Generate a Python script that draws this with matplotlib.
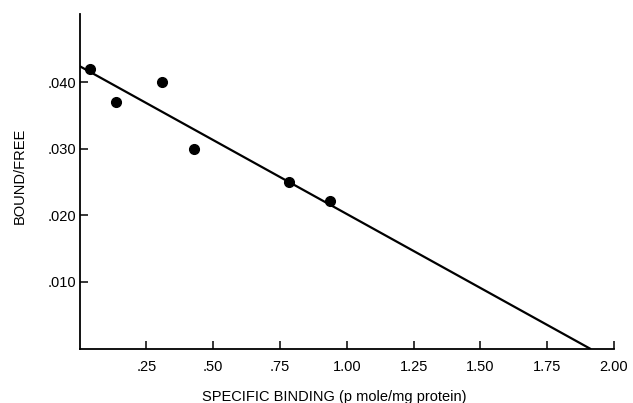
#
# Scatchard plot: bound/free vs specific binding
#
import matplotlib
matplotlib.use('Agg')
import matplotlib.pyplot as plt

plt.rcParams['font.family'] = ['Liberation Sans', 'DejaVu Sans']

# data points
binding = [0.04, 0.136, 0.31, 0.427, 0.783, 0.936]
bound_free = [0.0419, 0.0370, 0.0400, 0.0300, 0.0250, 0.0221]

# fitted line end points
fit_x = [0.0, 1.91]
fit_y = [0.0424, 0.0]

xticks = [0.25, 0.50, 0.75, 1.00, 1.25, 1.50, 1.75, 2.00]
xticklabels = ['.25', '.50', '.75', '1.00', '1.25', '1.50', '1.75', '2.00']
yticks = [0.010, 0.020, 0.030, 0.040]
yticklabels = ['.010', '.020', '.030', '.040']

fig = plt.figure(figsize=(6.33, 4.03), dpi=100)
ax = fig.add_axes([0.1256, 0.135, 0.8444, 0.83])

ax.plot(fit_x, fit_y, color='black', linewidth=1.6)
ax.plot(binding, bound_free, 'o', color='black', markersize=7)

ax.set_xlim(0, 2.0)
ax.set_ylim(0, 0.0502)
ax.spines['top'].set_visible(False)
ax.spines['right'].set_visible(False)
ax.spines['left'].set_linewidth(1.3)
ax.spines['bottom'].set_linewidth(1.3)

ax.set_xticks(xticks)
ax.set_xticklabels(xticklabels)
ax.set_yticks(yticks)
ax.set_yticklabels(yticklabels)
ax.tick_params(direction='in', length=6, width=1.1, labelsize=10.5)
ax.tick_params(axis='x', pad=8)
ax.tick_params(axis='y', pad=2)

ax.set_xlabel('SPECIFIC BINDING (p mole/mg protein)', fontsize=10.5)
ax.set_ylabel('BOUND/FREE', fontsize=10.5)
ax.xaxis.set_label_coords(0.476, -0.125)
ax.yaxis.set_label_coords(-0.099, 0.516)

fig.savefig('out.png', dpi=100)
